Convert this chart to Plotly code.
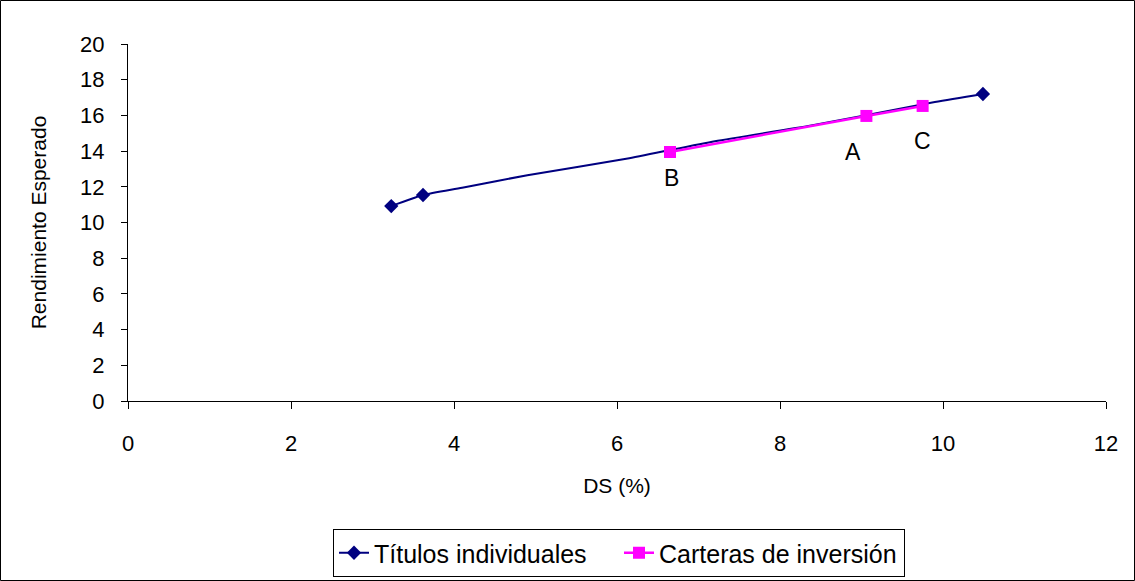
import plotly.graph_objects as go

# Data
titulos_x = [3.23, 3.62, 4.1, 4.9, 6.15, 7.2, 8.4, 9.9, 10.49]
titulos_y = [10.92, 11.54, 11.95, 12.65, 13.6, 14.55, 15.45, 16.75, 17.2]
titulos_marker = [True, True, False, False, False, False, False, False, True]

carteras_x = [6.65, 9.06, 9.75]
carteras_y = [13.95, 15.97, 16.53]
carteras_labels = ["B", "A", "C"]
label_x = [6.67, 8.9, 9.75]
label_y = [12.5, 13.95, 14.57]

x_ticks = [0, 2, 4, 6, 8, 10, 12]
y_ticks = [0, 2, 4, 6, 8, 10, 12, 14, 16, 18, 20]

FONT = "Liberation Sans, Arial, sans-serif"
NAVY = "#000080"
PINK = "#FF00FF"

fig = go.Figure()
# Títulos individuales: smoothed line + markers at the individual securities
fig.add_trace(go.Scatter(
    x=titulos_x, y=titulos_y, mode="lines", showlegend=False,
    line=dict(color=NAVY, width=2, shape="spline", smoothing=0.6),
    hoverinfo="skip",
))
fig.add_trace(go.Scatter(
    x=[x for x, m in zip(titulos_x, titulos_marker) if m],
    y=[y for y, m in zip(titulos_y, titulos_marker) if m],
    mode="markers", showlegend=False,
    marker=dict(symbol="diamond", color=NAVY, size=11, opacity=1,
                line=dict(width=0)),
))
fig.add_trace(go.Scatter(
    x=[None], y=[None], mode="lines+markers", name="Títulos individuales",
    line=dict(color=NAVY, width=2),
    marker=dict(symbol="diamond", color=NAVY, size=11, line=dict(width=0)),
))
fig.add_trace(go.Scatter(
    x=carteras_x, y=carteras_y, mode="lines+markers", name="Carteras de inversión",
    line=dict(color=PINK, width=2.5, shape="spline", smoothing=0.6),
    marker=dict(symbol="square", color=PINK, size=12, line=dict(width=0)),
))

for t, lx, ly in zip(carteras_labels, label_x, label_y):
    fig.add_annotation(x=lx, y=ly, text=t, showarrow=False,
                       font=dict(family=FONT, size=23, color="black"))

L, R, T, B = 128, 29, 44, 180
W, H = 1135, 581
pw, ph = W - L - R, H - T - B
fig.add_shape(type="rect", xref="paper", yref="paper",
              x0=-(L - 0.5) / pw, x1=(W - 0.5 - L) / pw,
              y0=-(B - 0.5) / ph, y1=(H - 0.5 - B) / ph,
              line=dict(color="black", width=1), layer="below")

fig.update_layout(
    width=W, height=H,
    margin=dict(l=L, r=R, t=T, b=B),
    paper_bgcolor="white", plot_bgcolor="white",
    font=dict(family=FONT, size=21, color="black"),
    showlegend=True,
    legend=dict(orientation="h", xref="container", x=619 / W, xanchor="center",
                yref="container", y=(H - 529) / H, yanchor="top",
                bordercolor="black", borderwidth=1, font=dict(size=25),
                entrywidth=240, entrywidthmode="pixels",
                tracegroupgap=0),
    xaxis=dict(range=[0, 12], tickvals=x_ticks, showgrid=False, zeroline=False,
               showline=True, linecolor="black", linewidth=1,
               ticks="outside", ticklen=7, tickcolor="black",
               ticklabelstandoff=16,
               title=dict(text="DS (%)", font=dict(size=21), standoff=22),
               tickfont=dict(size=22)),
    yaxis=dict(range=[0, 20], tickvals=y_ticks, showgrid=False, zeroline=False,
               showline=True, linecolor="black", linewidth=1,
               ticks="outside", ticklen=6, tickcolor="black",
               ticklabelstandoff=12,
               title=dict(text="Rendimiento Esperado", font=dict(size=21), standoff=27),
               tickfont=dict(size=22)),
)

fig.write_html("out.html", config={"displayModeBar": False},
               post_script="document.body.style.margin='0';")
